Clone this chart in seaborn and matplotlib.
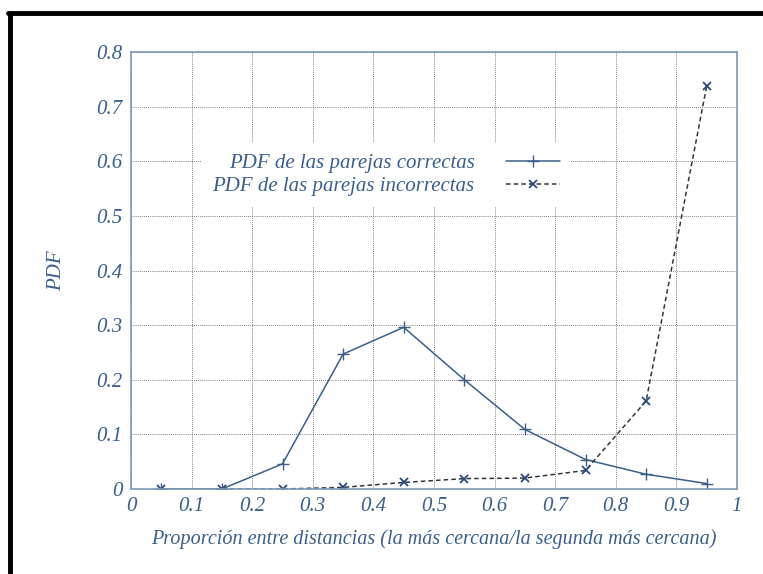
import numpy as np
import pandas as pd
import seaborn as sns
import matplotlib
matplotlib.use("Agg")
import matplotlib.pyplot as plt
from matplotlib.lines import Line2D

# Ratio bins (centres) and PDF values for each population
ratio = [0.05, 0.15, 0.25, 0.35, 0.45, 0.55, 0.65, 0.75, 0.85, 0.95]
pdf_correct = [0.0, 0.0, 0.046, 0.247, 0.296, 0.200, 0.109, 0.054, 0.027, 0.010]
pdf_incorrect = [0.0, 0.0, 0.0, 0.003, 0.012, 0.019, 0.020, 0.034, 0.161, 0.738]

label_correct = "PDF de las parejas correctas"
label_incorrect = "PDF de las parejas incorrectas"

x_ticks = [0, 0.1, 0.2, 0.3, 0.4, 0.5, 0.6, 0.7, 0.8, 0.9, 1]
x_ticklabels = ["0", "0.1", "0.2", "0.3", "0.4", "0.5", "0.6", "0.7", "0.8", "0.9", "1"]
y_ticks = [0, 0.1, 0.2, 0.3, 0.4, 0.5, 0.6, 0.7, 0.8]
y_ticklabels = ["0", "0.1", "0.2", "0.3", "0.4", "0.5", "0.6", "0.7", "0.8"]

df = pd.DataFrame({
    "ratio": ratio * 2,
    "pdf": pdf_correct + pdf_incorrect,
    "serie": [label_correct] * len(ratio) + [label_incorrect] * len(ratio),
})

sns.set_style("white")
plt.rcParams["font.family"] = ["Liberation Serif", "DejaVu Serif"]
plt.rcParams["font.style"] = "italic"

BLUE = "#3b5f88"
DARK = "#2f3640"
FS = 15

fig = plt.figure(figsize=(7.63, 5.74), dpi=100)
ax = fig.add_axes([131 / 763, 1 - 489 / 574, 606 / 763, 437 / 574])

sns.lineplot(data=df[df.serie == label_correct], x="ratio", y="pdf", ax=ax,
             color=BLUE, linewidth=1.1, marker="+", markersize=8,
             markeredgewidth=1.0, markeredgecolor=BLUE, label=label_correct)
sns.lineplot(data=df[df.serie == label_incorrect], x="ratio", y="pdf", ax=ax,
             color=DARK, linewidth=1.1, linestyle=(0, (3, 2)), marker="x",
             markersize=6, markeredgewidth=1.3, markeredgecolor="#2a4a78",
             label=label_incorrect)

ax.set_xlim(0, 1)
ax.set_ylim(0, 0.8)
ax.set_xticks(x_ticks)
ax.set_xticklabels(x_ticklabels)
ax.set_yticks(y_ticks)
ax.set_yticklabels(y_ticklabels)
ax.grid(True, color="#555555", linestyle=(0, (1, 1.5)), linewidth=0.6)
ax.set_axisbelow(True)

for sp in ax.spines.values():
    sp.set_color("#7d98b8")
    sp.set_linewidth(1.2)

ax.tick_params(axis="both", colors=BLUE, labelsize=FS, direction="in",
               length=0, pad=6)
for t in ax.get_xticklabels() + ax.get_yticklabels():
    t.set_fontstyle("italic")
    t.set_color(BLUE)

ax.set_xlabel("Proporción entre distancias (la más cercana/la segunda más cercana)",
              color=BLUE, fontsize=14.5, fontstyle="italic", labelpad=9)
ax.set_ylabel("PDF", color=BLUE, fontsize=FS, fontstyle="italic", labelpad=22)

leg = ax.legend(loc="upper left", bbox_to_anchor=(0.1, 0.815), markerfirst=False,
                frameon=True, fancybox=False, framealpha=1, edgecolor="white",
                facecolor="white", fontsize=FS, handlelength=2.6,
                borderpad=0.5, labelspacing=0.15, handletextpad=1.5)
for t in leg.get_texts():
    t.set_color(BLUE)
    t.set_fontstyle("italic")

# Black page border on top and left
fig.add_artist(Line2D([8 / 763, 1], [1 - 13 / 574, 1 - 13 / 574],
                      transform=fig.transFigure, color="black", linewidth=3.5))
fig.add_artist(Line2D([9.5 / 763, 9.5 / 763], [0, 1 - 13 / 574],
                      transform=fig.transFigure, color="black", linewidth=3.5))

fig.savefig("out.png", dpi=100, facecolor="white")
